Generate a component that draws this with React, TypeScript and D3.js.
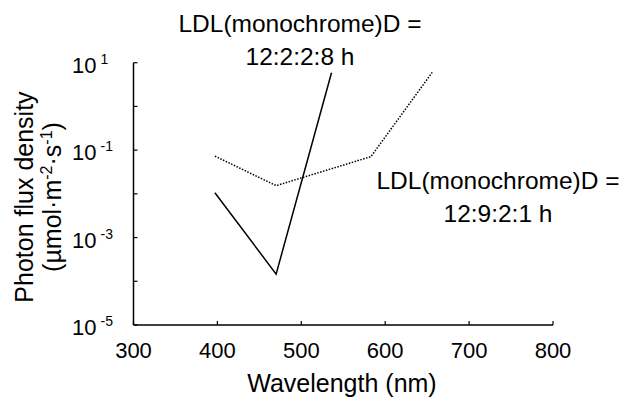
import React, { useEffect, useRef } from "react";
import * as d3 from "d3";

// wavelength (nm) vs photon flux density
const shortDayWl = [397, 470, 536];
const shortDayFlux = [0.0106, 0.000146, 5.9];
const longDayWl = [397, 470, 583, 656];
const longDayFlux = [0.073, 0.0154, 0.071, 6.0];
const xTicks = [300, 400, 500, 600, 700, 800];
const yExponents = [1, 0, -1, -2, -3, -4, -5];
const yLabelled = [1, -1, -3, -5];

const font = "'Liberation Sans', Arial, sans-serif";

const App = () => {
  const svgRef = useRef<SVGSVGElement>(null);

  useEffect(() => {
    const svg = d3.select(svgRef.current);
    svg.selectAll("*").remove();

    const x = d3.scaleLinear().domain([300, 800]).range([133.5, 553]);
    const y = d3.scaleLog().domain([1e-5, 10]).range([325, 62.7]);

    const g = svg.append("g").attr("font-family", font).attr("fill", "#000");

    // y axis
    g.append("line")
      .attr("x1", x(300)).attr("x2", x(300))
      .attr("y1", y(1e-5)).attr("y2", y(10))
      .attr("stroke", "#000").attr("stroke-width", 1.5);
    yExponents.forEach(e => {
      g.append("line")
        .attr("x1", x(300)).attr("x2", x(300) + 4)
        .attr("y1", y(Math.pow(10, e))).attr("y2", y(Math.pow(10, e)))
        .attr("stroke", "#000").attr("stroke-width", 1.2);
    });
    yLabelled.forEach(e => {
      const yy = y(Math.pow(10, e));
      g.append("text")
        .attr("x", 72).attr("y", yy + 10)
        .attr("font-size", 22)
        .text("10");
      g.append("text")
        .attr("x", 100.5).attr("y", yy + 1)
        .attr("font-size", 14)
        .text(e < 0 ? "-" + Math.abs(e) : String(e));
    });

    // x axis
    g.append("line")
      .attr("x1", x(300)).attr("x2", x(800))
      .attr("y1", y(1e-5)).attr("y2", y(1e-5))
      .attr("stroke", "#000").attr("stroke-width", 1.5);
    xTicks.forEach(t => {
      g.append("line")
        .attr("x1", x(t)).attr("x2", x(t))
        .attr("y1", y(1e-5)).attr("y2", y(1e-5) - 4)
        .attr("stroke", "#000").attr("stroke-width", 1.2);
      g.append("text")
        .attr("x", x(t)).attr("y", 358)
        .attr("text-anchor", "middle")
        .attr("font-size", 22)
        .text(t);
    });

    // axis titles
    g.append("text")
      .attr("x", 342).attr("y", 392)
      .attr("text-anchor", "middle")
      .attr("font-size", 25)
      .text("Wavelength (nm)");

    const yt = g.append("g").attr("transform", "translate(0,197) rotate(-90)");
    yt.append("text")
      .attr("x", 0).attr("y", 33)
      .attr("text-anchor", "middle")
      .attr("font-size", 25)
      .text("Photon flux density");
    const t2 = yt.append("text")
      .attr("x", 0).attr("y", 61)
      .attr("text-anchor", "middle")
      .attr("font-size", 25);
    t2.append("tspan").text("(µmol·m");
    t2.append("tspan").attr("dy", -9).attr("font-size", 16).text("-2");
    t2.append("tspan").attr("dy", 9).text("·s");
    t2.append("tspan").attr("dy", -9).attr("font-size", 16).text("-1");
    t2.append("tspan").attr("dy", 9).text(")");

    const line = d3.line<[number, number]>()
      .x(d => x(d[0]))
      .y(d => y(d[1]));

    g.append("path")
      .datum(shortDayWl.map((w, i) => [w, shortDayFlux[i]] as [number, number]))
      .attr("fill", "none")
      .attr("stroke", "#000")
      .attr("stroke-width", 1.5)
      .attr("d", line);

    g.append("path")
      .datum(longDayWl.map((w, i) => [w, longDayFlux[i]] as [number, number]))
      .attr("fill", "none")
      .attr("stroke", "#000")
      .attr("stroke-width", 1.5)
      .attr("stroke-dasharray", "1.5,1.5")
      .attr("d", line);

    // annotations
    const ann = [
      { cx: 300, y1: 32, lines: ["LDL(monochrome)D =", "12:2:2:8 h"] },
      { cx: 498, y1: 189, lines: ["LDL(monochrome)D =", "12:9:2:1 h"] },
    ];
    ann.forEach(a => {
      a.lines.forEach((l, i) => {
        g.append("text")
          .attr("x", a.cx).attr("y", a.y1 + i * 33)
          .attr("text-anchor", "middle")
          .attr("font-size", 24.5)
          .text(l);
      });
    });
  }, []);

  return <svg ref={svgRef} width={625} height={412} style={{ display: "block", position: "absolute", left: 0, top: 0, background: "#fff" }} />;
};

export default App;
